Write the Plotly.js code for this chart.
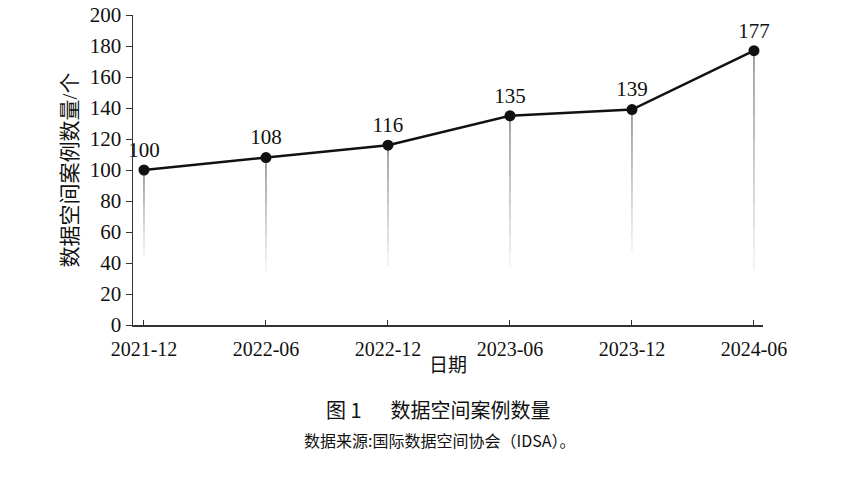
<!DOCTYPE html>
<html>
<head>
<meta charset="utf-8">
<script src="https://cdn.plot.ly/plotly-3.0.1.min.js"></script>
<style>html,body{margin:0;padding:0;background:#fff;}#chart{width:852px;height:477px;}</style>
</head>
<body>
<div id="chart"></div>
<script>
const dates = ["2021-12", "2022-06", "2022-12", "2023-06", "2023-12", "2024-06"];
const counts = [100, 108, 116, 135, 139, 177];
const yTicks = [0, 20, 40, 60, 80, 100, 120, 140, 160, 180, 200];
const dropEnd = [45, 35, 38, 38, 48, 35];

const serif = "Liberation Serif, Times New Roman, Noto Sans CJK SC, serif";
const xIdx = dates.map((d, i) => i);

// fading drop lines: several segments with decreasing opacity
const traces = [];
const N = 10;
for (let k = 0; k < N; k++) {
  const xs = [], ys = [];
  counts.forEach((v, i) => {
    const top = v - (v - dropEnd[i]) * k / N;
    const bot = v - (v - dropEnd[i]) * (k + 1) / N;
    xs.push(xIdx[i], xIdx[i], null);
    ys.push(top, bot, null);
  });
  const a = 0.75 * (1 - k / N) + 0.03;
  traces.push({
    x: xs, y: ys, mode: "lines", type: "scatter", hoverinfo: "skip",
    line: {color: "rgba(60,60,60," + a.toFixed(3) + ")", width: 1.2},
    showlegend: false
  });
}

traces.push({
  x: xIdx, y: counts, type: "scatter", mode: "lines+markers+text",
  text: counts.map(String), textposition: "top center",
  textfont: {family: serif, size: 21, color: "#111"},
  line: {color: "#111", width: 2.5},
  marker: {color: "#111", size: 11},
  showlegend: false, cliponaxis: false
});

const layout = {
  width: 852, height: 477,
  margin: {l: 133, r: 89, t: 15, b: 152},
  paper_bgcolor: "#fff", plot_bgcolor: "#fff",
  font: {family: serif, color: "#111", size: 21},
  xaxis: {
    range: [-0.09, 5.074],
    tickmode: "array", tickvals: xIdx, ticktext: dates,
    ticks: "inside", ticklen: 5, tickcolor: "#333", tickwidth: 1,
    ticklabelstandoff: 5,
    showline: true, linecolor: "#333", linewidth: 1.5,
    showgrid: false, zeroline: false,
    tickfont: {family: serif, size: 20, color: "#111"},
    title: {text: "日期", font: {family: serif, size: 19, color: "#111"}, standoff: 0}
  },
  yaxis: {
    range: [0, 200],
    tickmode: "array", tickvals: yTicks,
    ticks: "outside", ticklen: 6, tickcolor: "#333", tickwidth: 1,
    showline: true, linecolor: "#333", linewidth: 1.5,
    showgrid: false, zeroline: false,
    tickfont: {family: serif, size: 21, color: "#111"},
    title: {text: "数据空间案例数量/个", font: {family: serif, size: 21, color: "#111"}, standoff: 6}
  },
  annotations: [
    {text: "图 1　  数据空间案例数量", xref: "paper", yref: "paper", x: 0.485, y: -0.274,
     xanchor: "center", yanchor: "middle", showarrow: false,
     font: {family: "Noto Sans CJK SC, serif", size: 20, color: "#111"}},
    {text: "数据来源:国际数据空间协会（IDSA）。", xref: "paper", yref: "paper", x: 0.487, y: -0.371,
     xanchor: "center", yanchor: "middle", showarrow: false,
     font: {family: "Noto Sans CJK SC, serif", size: 16, color: "#111"}}
  ]
};

Plotly.newPlot("chart", traces, layout, {displayModeBar: false, staticPlot: true});
</script>
</body>
</html>
